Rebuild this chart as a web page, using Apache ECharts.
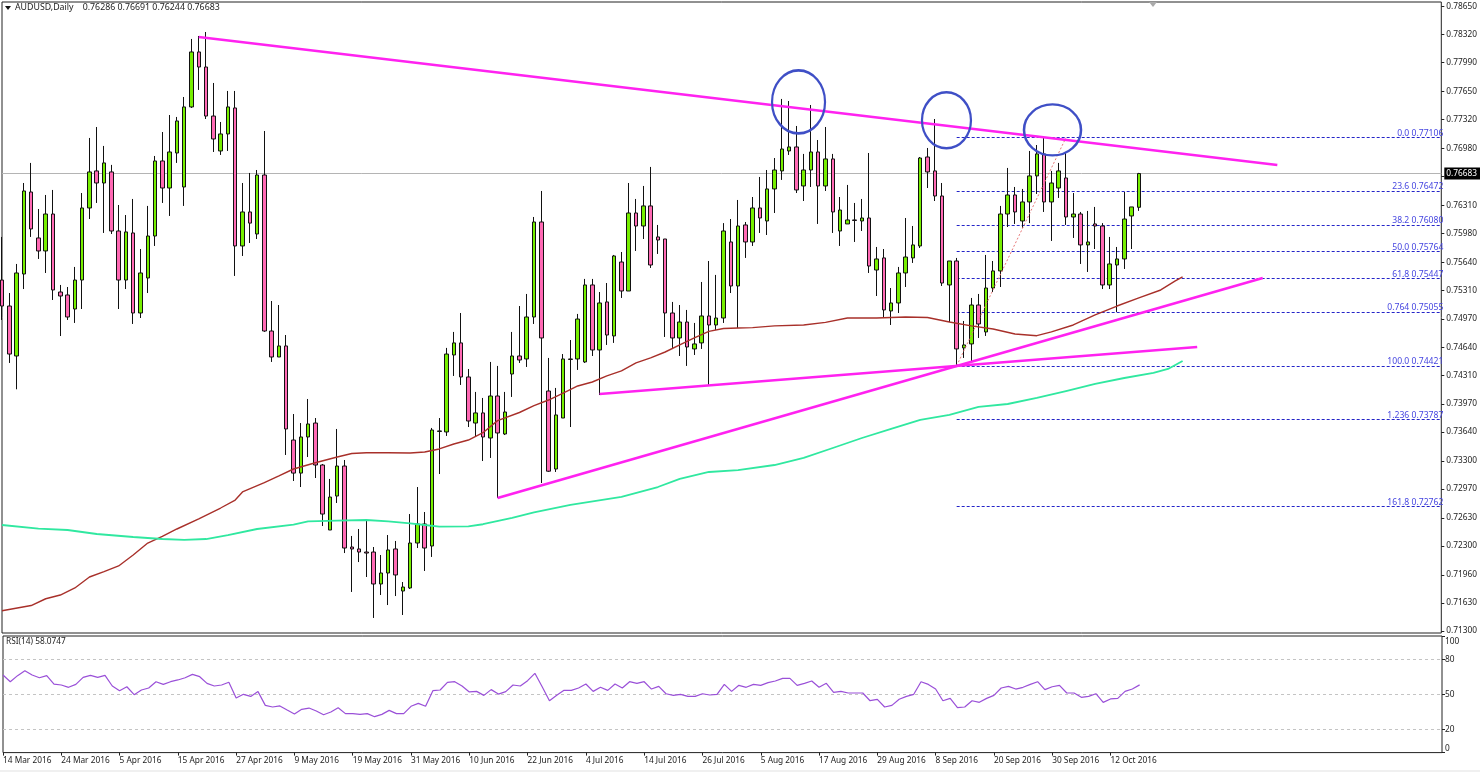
<!DOCTYPE html>
<html>
<head>
<meta charset="utf-8">
<title>AUDUSD,Daily</title>
<style>
html,body{margin:0;padding:0;background:#fff}
#main{width:1480px;height:772px}
</style>
<script src="https://cdn.jsdelivr.net/npm/echarts@6/dist/echarts.min.js"></script>
</head>
<body>
<div id="main"></div>
<script>
var opens=[.7543,.75124,.74536,.75501,.76466,.75925,.75772,.76207,.75289,.75254,
.75089,.7543,.76278,.76714,.76572,.76702,.76007,.7543,.75984,.75042,
.75454,.75948,.76831,.76513,.76925,.76525,.77467,.78114,.77937,.7736,
.76949,.77149,.77455,.75831,.76231,.75972,.76666,.7483,.74524,.74654,
.73547,.73158,.73583,.73747,.73253,.72488,.72888,.73241,.72288,.72265,
.72229,.72229,.71853,.71982,.72265,.7177,.71806,.72335,.72559,.723,
.73648,.73642,.74548,.7469,.74289,.73747,.73866,.73571,.74065,.73618,
.74324,.74536,.74501,.74995,.76113,.74124,.73206,.73806,.74501,.74501,
.74466,.75372,.74607,.75172,.74772,.75642,.75301,.76219,.76066,.76302,
.75937,.75913,.75042,.74748,.74936,.74619,.7469,.75007,.74901,.74983,
.75878,.7536,.76078,.75878,.76278,.76125,.76502,.76714,.76949,.76996,
.76537,.76725,.76937,.76537,.76855,.76007,.7609,.76137,.76125,.7616,
.75548,.7569,.75066,.7516,.75513,.7569,.75831,.76878,.76714,.76419,
.75372,.75654,.74631,.74678,.75136,.74819,.75336,.75537,.76207,.76431,
.76125,.76349,.76655,.76914,.76349,.76513,.76631,.76172,.76207,.75843,
.7609,.76066,.75372,.75607,.75678,.76184,.76286];
var closes=[.75124,.74559,.75513,.76478,.76031,.75772,.76207,.75313,.75242,.74995,
.7543,.76278,.76702,.76572,.76808,.76007,.7543,.75996,.75042,.75513,
.75948,.76831,.76513,.76937,.77302,.77467,.78114,.77937,.7736,.7709,
.77149,.77467,.75831,.76231,.761,.76666,.7483,.74524,.74654,.73677,
.73158,.73583,.73736,.73253,.72676,.72876,.73241,.72276,.72265,.72229,
.72217,.71853,.71982,.72253,.71959,.71817,.72335,.72559,.72276,.73665,
.73654,.74559,.7469,.74289,.73771,.73866,.73583,.74065,.7363,.73877,
.74536,.74489,.74995,.76113,.74748,.7318,.73842,.74501,.74495,.74971,
.75372,.74607,.7516,.74783,.75713,.75301,.76219,.76066,.76302,.75607,
.75901,.75042,.74748,.74936,.74642,.74678,.75007,.74901,.74983,.76007,
.7536,.76066,.75878,.76278,.7616,.76502,.76725,.76972,.76996,.7649,
.76725,.76937,.76537,.76855,.76231,.76254,.76137,.76131,.7616,.75595,
.75678,.75078,.7516,.75513,.75701,.75843,.76866,.76702,.76419,.75395,
.75654,.74619,.74666,.75136,.74913,.75336,.75537,.76207,.76431,.76231,
.76349,.76655,.76914,.76349,.76572,.76714,.76172,.76207,.75843,.75878,
.76066,.75372,.75619,.75678,.76148,.7629,.76683];
var lows=[.7496,.74454,.74144,.75324,.75937,.75678,.75513,.75195,.74771,.7496,
.74925,.75089,.76148,.76337,.75984,.75972,.75089,.75324,.74913,.74983,
.75277,.75831,.76337,.76184,.76808,.76302,.77455,.77667,.77325,.76937,
.76902,.76949,.75478,.75713,.75866,.75913,.7482,.74466,.74524,.73371,
.73065,.72994,.73347,.731,.72535,.72488,.72806,.72217,.71759,.72111,
.71935,.71453,.71723,.71605,.71711,.71488,.71794,.72276,.72006,.72171,
.73147,.73595,.74301,.74195,.737,.73583,.733,.73336,.72865,.73606,
.74054,.74454,.74407,.74913,.73041,.73171,.73171,.73806,.737,.74372,
.74454,.74536,.74077,.74666,.7469,.75219,.75301,.75772,.75913,.75572,
.75737,.7476,.74631,.74536,.74419,.74548,.74619,.74195,.74842,.74925,
.75277,.74866,.7569,.75831,.75984,.7596,.76219,.76608,.76902,.76454,
.7636,.76525,.7609,.76478,.75984,.75831,.7609,.75878,.76007,.75513,
.75242,.74995,.74901,.75042,.75348,.75631,.75807,.76513,.7636,.7536,
.74936,.74431,.74513,.74466,.74748,.74772,.75289,.75348,.76054,.7609,
.76043,.761,.76443,.76231,.7589,.76396,.76078,.75925,.75619,.75525,
.75795,.75324,.75324,.75054,.7556,.75795,.76244];
var highs=[.75937,.75277,.75619,.76572,.76808,.76266,.76431,.7649,.75372,.75348,
.75584,.76454,.77102,.77231,.77008,.76785,.76313,.76195,.76384,.75795,
.76302,.7689,.77172,.77372,.77349,.77584,.78267,.78302,.78349,.77749,
.7729,.77655,.77655,.76572,.7669,.76725,.77184,.75183,.75136,.74783,
.73853,.73747,.7403,.73806,.73265,.73089,.73677,.73312,.72418,.725,
.72594,.72288,.72194,.72429,.72359,.71876,.72676,.72994,.727,.73689,
.73806,.74631,.74819,.75042,.74383,.74113,.74042,.74466,.74419,.74113,
.74819,.75124,.75266,.76172,.76478,.74513,.7416,.74559,.74724,.75031,
.75443,.75443,.75289,.75395,.75725,.7576,.76572,.76384,.76537,.76761,
.76078,.75913,.75172,.75136,.75078,.74925,.75407,.75654,.7549,.761,
.76148,.76372,.76113,.76407,.76643,.76725,.76866,.77561,.77537,.77243,
.76914,.7749,.77078,.77231,.76914,.76407,.76549,.76337,.76384,.76925,
.75819,.75795,.75336,.75584,.7616,.76066,.76878,.76984,.77325,.76572,
.75654,.7569,.74948,.75219,.75266,.75725,.75654,.76302,.76749,.76525,
.76502,.76949,.77019,.77102,.76714,.76808,.76925,.76454,.76231,.76243,
.7629,.761,.75937,.75819,.76466,.7629,.76691];

// 滑动均线,只读了部分K线位置上的点
var redBars=[0,4,6,8,10,12,14,16,18,20,22,24,27,30,32,33,36,38,40,43,46,48,50,53,56,58,60,62,64,66,68,71,73,75,77,79,81,83,85,87,89,91,93,95,97,99,101,103,106,110,113,116,120,124,127,130,133,136,139,142,144,147,150,153,156,159,161,162];
var redValues=[.71538,.71599,.71679,.71723,.71806,.71935,.71998,.72065,.72194,.72335,.72412,.725,.72618,.72747,.72841,.72936,.73045,.73124,.73206,.7328,.73347,.73389,.73398,.73398,.73394,.73406,.73442,.735,.73547,.73633,.73775,.73871,.73953,.74018,.741,.74183,.7423,.74301,.7436,.74454,.74513,.74583,.74666,.74748,.74825,.7486,.74866,.7487,.7489,.74901,.74931,.74983,.74983,.74995,.74989,.74936,.7489,.74854,.74795,.74775,.74819,.74901,.75019,.75124,.75219,.75313,.75419,.75466];
var greenBars=[0,5,9,13,18,22,25,28,31,35,40,42,46,50,53,56,58,60,64,66,70,73,78,85,90,93,97,101,106,110,114,118,122,126,130,134,138,142,146,150,154,158,160,162];
var greenValues=[.72547,.72504,.72488,.72441,.72406,.72382,.72371,.72382,.72429,.725,.72551,.72589,.72598,.72606,.72589,.72565,.72547,.72527,.7253,.72556,.7263,.72695,.72783,.72877,.72994,.73089,.73171,.73194,.73253,.73336,.73453,.73571,.73677,.73783,.73842,.73936,.73971,.74042,.74124,.74207,.74277,.74336,.74383,.74478];

var rsiValues=[66.5,60.8,66,70.2,66.5,64.2,66,58.8,58,56,
58.5,64.5,66.2,64.5,66.2,57.1,53.1,56.5,49.7,53.7,
55.4,60.8,58.5,60.8,62.3,64.2,67.1,65.1,59.4,57.1,
58,60.3,46.8,50,48.2,52.3,40.5,39.1,40,36.5,
33.1,37.1,38.2,35.7,32.5,34.8,38.5,33.4,33.4,32.8,
33.4,30.8,32.8,36.2,33.4,33.4,39.7,42.2,39.7,53.1,
53.7,60.3,60.8,57.1,52,52.5,49.1,54,50.2,52.3,
58,57.1,61.7,68,56.5,44.5,49.1,53.4,53.4,55.4,
58.8,52.5,56,53.4,58.8,55.4,60.8,59.4,60.8,54.5,
56.8,50.5,49.1,50,48.2,48.2,50.5,49.4,50,58.5,
52.5,57.7,56,58.5,57.7,60,61.4,63.7,63.7,57.7,
59.4,61.4,56,59.4,51.7,52.5,51.1,51.1,51.1,44.5,
45.7,39.1,40.5,45.7,48.2,50,60.8,58.5,54.5,44.5,
46.5,38.5,39.1,44.5,43.1,46.5,49.1,55.4,56.8,54.5,
56,58.5,60.8,54,56.5,57.7,51.1,51.1,47.4,48.2,
50.5,43.1,46,46.5,52.5,54.5,58.07];

var dateLabels=['14 Mar 2016','24 Mar 2016','5 Apr 2016','15 Apr 2016','27 Apr 2016','9 May 2016','19 May 2016','31 May 2016','10 Jun 2016','22 Jun 2016','4 Jul 2016','14 Jul 2016','26 Jul 2016','5 Aug 2016','17 Aug 2016','29 Aug 2016','8 Sep 2016','20 Sep 2016','30 Sep 2016','12 Oct 2016'];
var dateBars=[0,8,16,24,32,40,48,56,64,72,80,88,96,104,112,120,128,136,144,152];
var priceTicks=[.7865,.7832,.7799,.7765,.7732,.7698,.7665,.7631,.7598,.7564,.7531,.7497,.7464,.7431,.7397,.7364,.733,.7297,.7263,.723,.7196,.7163,.713];
var rsiTicks=[100,80,50,20,0];

var fibNames=['0.0','23.6','38.2','50.0','61.8','0.764','100.0','1.236','161.8'];
var fibLevels=[.77106,.76472,.7608,.75764,.75447,.75055,.74421,.73787,.72762];

// 手画的趋势线 [起点bar,起点价,终点bar,终点价]
var trendLines=[[27,.7829,175,.76784],[82,.74089,164,.74642],[68,.72865,173,.75454]];
var fibDiagonal=[[131,.74421],[146,.77106]];
var circles=[[109.3,.77526,53,63],[129.6,.7731,49,56],[144.15,.77196,57,51]];

var lastPrice=.76683;
var headerText='AUDUSD,Daily    0.76286 0.76691 0.76244 0.76683';
var rsiText='RSI(14) 58.0747';

var font='"Noto Sans"';
var fontSize=8.3;
var textColor='#1c1c1c';

var candles=opens.map(function(o,i){
	return [i,o,closes[i],lows[i],highs[i]];
});
function pairs(xs,ys){
	return xs.map(function(x,i){return [x,ys[i]];});
}

var series=[
	{
		type:'candlestick',
		name:'AUDUSD',
		xAxisIndex:0,
		yAxisIndex:0,
		barWidth:4,
		data:candles,
		z:2,
		itemStyle:{
			color:'#76ee00',
			color0:'#ff69b4',
			borderColor:'#111',
			borderColor0:'#111',
			borderColorDoji:'#111',
			borderWidth:1
		},
		markLine:{
			silent:true,
			symbol:'none',
			animation:false,
			z:1,
			data:[
				[
					{
						coord:[0,lastPrice],
						lineStyle:{color:'#b4b4b4',width:1,type:'solid'},
						label:{
							show:true,
							position:'end',
							distance:3,
							formatter:lastPrice.toFixed(5),
							color:'#fff',
							backgroundColor:'#000',
							fontFamily:font,
							fontSize:fontSize,
							padding:[2,4,2,2]
						}
					},
					{coord:[197.5,lastPrice]}
				]
			].concat(fibLevels.map(function(v,i){
				return [
					{
						coord:[131,v],
						lineStyle:{color:'#2424c8',width:1,type:[3,2]},
						label:{
							show:true,
							position:'insideEndTop',
							distance:0,
							offset:[2,0],
							formatter:fibNames[i]+' '+v.toFixed(5),
							color:'#4646e0',
							fontFamily:font,
							fontSize:8.6
						}
					},
					{coord:[197.5,v]}
				];
			}))
		}
	},
	{
		type:'line',
		name:'MA red',
		data:pairs(redBars,redValues),
		symbol:'none',
		z:3,
		lineStyle:{color:'#a8302a',width:1.4},
		xAxisIndex:0,
		yAxisIndex:0,
		silent:true
	},
	{
		type:'line',
		name:'MA green',
		data:pairs(greenBars,greenValues),
		symbol:'none',
		z:3,
		lineStyle:{color:'#30e8a0',width:1.8},
		xAxisIndex:0,
		yAxisIndex:0,
		silent:true
	},
	{
		type:'line',
		name:'Fibo',
		data:fibDiagonal,
		symbol:'none',
		z:3,
		lineStyle:{color:'#e87878',width:1,type:[2,2]},
		xAxisIndex:0,
		yAxisIndex:0,
		silent:true
	},
	{
		type:'scatter',
		name:'circles',
		xAxisIndex:0,
		yAxisIndex:0,
		silent:true,
		z:5,
		data:circles.map(function(c){
			return {value:[c[0],c[1]],symbolSize:[c[2],c[3]]};
		}),
		itemStyle:{color:'rgba(0,0,0,0)',borderColor:'#3f4fc6',borderWidth:2.4,opacity:1}
	},
	{
		type:'line',
		name:'RSI',
		xAxisIndex:1,
		yAxisIndex:1,
		data:rsiValues.map(function(v,i){return [i,v];}),
		symbol:'none',
		silent:true,
		lineStyle:{color:'#9a50d8',width:1.2}
	}
];

trendLines.forEach(function(t,i){
	series.push({
		type:'line',
		name:'trend'+i,
		xAxisIndex:0,
		yAxisIndex:0,
		data:[[t[0],t[1]],[t[2],t[3]]],
		symbol:'none',
		silent:true,
		z:4,
		lineStyle:{color:'#ff22f0',width:2.6}
	});
});

var myChart=echarts.init(document.getElementById('main'));
myChart.setOption({
	animation:false,
	backgroundColor:'#fff',
	textStyle:{fontFamily:font},
	grid:[
		{left:2,right:38,top:2,height:631,show:true,borderColor:'#222',borderWidth:1,backgroundColor:'#fff'},
		{left:2,right:38,top:636,height:116.6,show:true,borderColor:'#222',borderWidth:1,backgroundColor:'#fff'}
	],
	xAxis:[
		{type:'value',gridIndex:0,min:0,max:197.5,show:false,splitLine:{show:false}},
		{
			type:'value',
			gridIndex:1,
			min:0,
			max:197.5,
			splitLine:{show:false},
			axisLine:{show:false,onZero:false},
			axisTick:{show:true,length:3,customValues:dateBars,lineStyle:{color:'#222'}},
			axisLabel:{
				customValues:dateBars,
				align:'left',
				margin:4,
				color:textColor,
				fontFamily:font,
				fontSize:fontSize,
				formatter:function(v){return dateLabels[dateBars.indexOf(v)];}
			}
		}
	],
	yAxis:[
		{
			type:'value',
			gridIndex:0,
			position:'right',
			min:.71276,
			max:.78702,
			splitLine:{show:false},
			axisLine:{show:false,onZero:false},
			axisTick:{show:true,length:3,customValues:priceTicks,lineStyle:{color:'#222'}},
			axisLabel:{
				customValues:priceTicks,
				margin:5,
				padding:[4,0,0,0],
				color:textColor,
				fontFamily:font,
				fontSize:fontSize,
				formatter:function(v){return v.toFixed(5);}
			}
		},
		{
			type:'value',
			gridIndex:1,
			position:'right',
			min:0,
			max:100,
			axisLine:{show:false,onZero:false},
			splitLine:{show:true,lineStyle:{color:'#c4c4c4',type:[3,3],width:1},showMinLine:false,showMaxLine:false},
			axisTick:{show:true,length:3,customValues:rsiTicks,lineStyle:{color:'#222'}},
			axisLabel:{
				customValues:rsiTicks,
				margin:3,
				padding:[2,0,0,0],
				color:textColor,
				fontFamily:font,
				fontSize:fontSize,
				verticalAlignMinLabel:'top',
				verticalAlignMaxLabel:'bottom'
			}
		}
	],
	title:[
		{left:15,top:3,padding:0,text:headerText,textStyle:{fontFamily:font,fontSize:8.8,fontWeight:'normal',color:textColor}},
		{left:6,top:638,padding:0,text:rsiText,textStyle:{fontFamily:font,fontSize:fontSize,fontWeight:'normal',color:textColor}}
	],
	graphic:[
		{type:'polygon',silent:true,shape:{points:[[5,6],[11,6],[8,10]]},style:{fill:'#111'}},
		{type:'polygon',silent:true,shape:{points:[[1149,2],[1157,2],[1153,7]]},style:{fill:'#aaa'}},
		{type:'rect',silent:true,z:-1,shape:{x:0,y:770,width:1480,height:2},style:{fill:'#f0f0f0'}}
	],
	series:series
});
</script>
</body>
</html>
